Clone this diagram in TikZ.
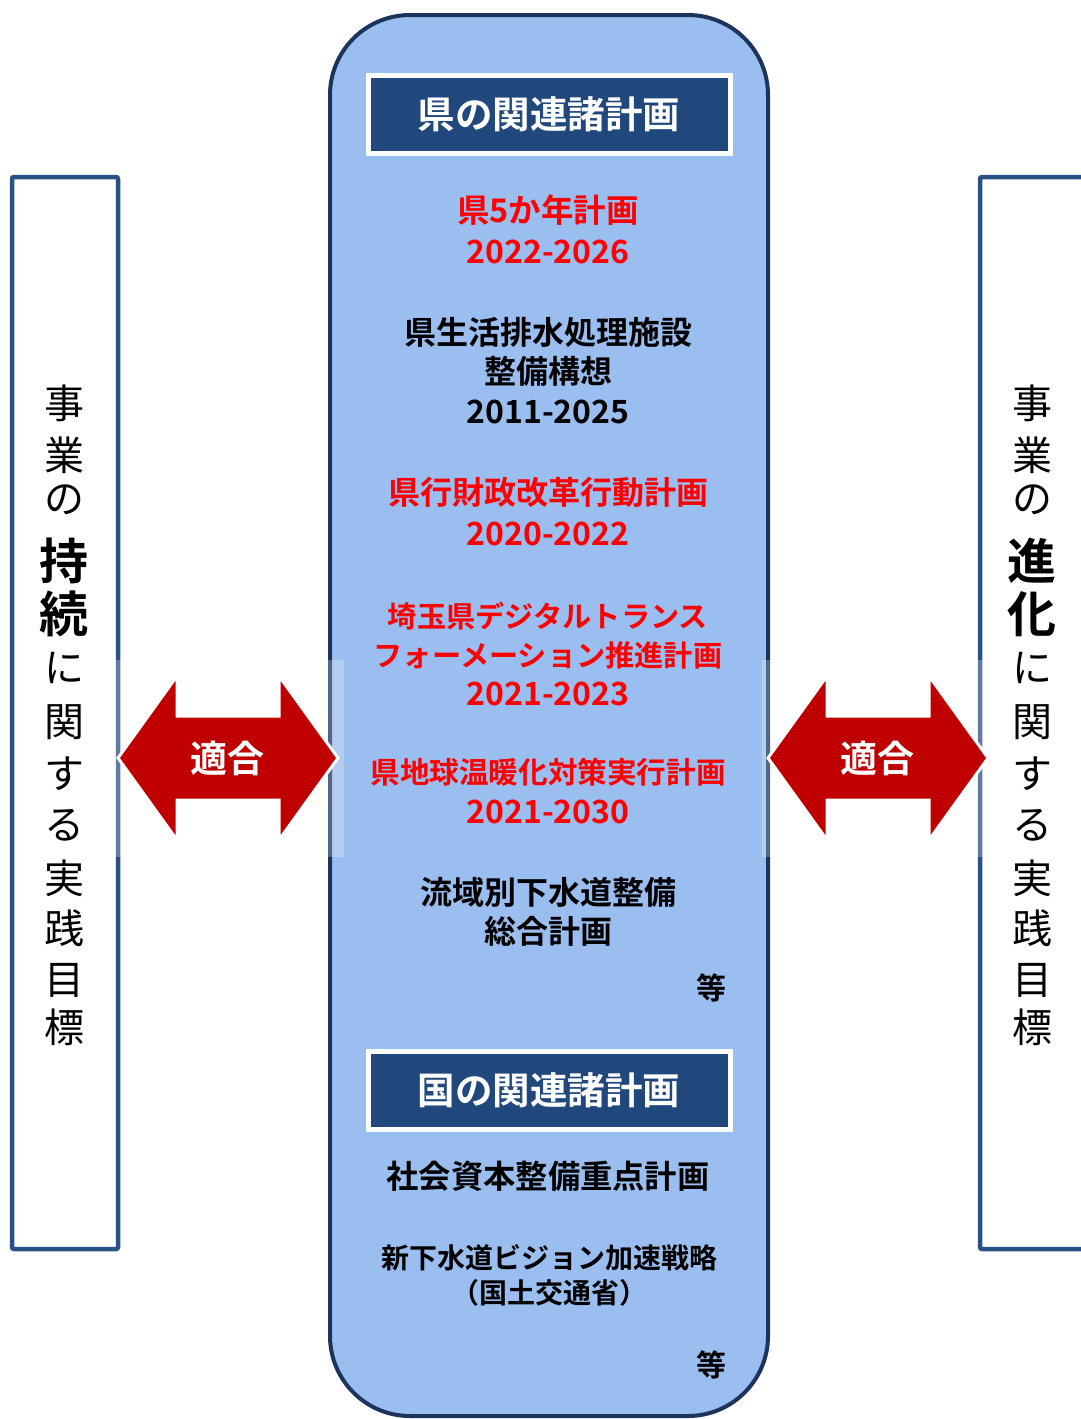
\documentclass[tikz,border=0pt]{standalone}
\usepackage{fontspec}
\setmainfont{Noto Sans CJK JP}[BoldFont={Noto Sans CJK JP Bold}]
\definecolor{panelfill}{RGB}{155,190,240}
\definecolor{panelline}{RGB}{28,52,92}
\definecolor{headfill}{RGB}{33,72,124}
\definecolor{sidebord}{RGB}{42,80,132}
\definecolor{arrowred}{RGB}{192,0,0}
\definecolor{planred}{RGB}{255,0,0}
\tikzset{
  plan/.style={inner sep=0pt, text=black, font=\bfseries\fontsize{#1}{#1}\selectfont},
  redplan/.style={plan=#1, text=planred},
  headbox/.style={draw=white, line width=5pt, fill=headfill, minimum width=362pt, minimum height=78pt, text=white, font=\bfseries\fontsize{37.5}{37.5}\selectfont, inner sep=0pt},
  sidebox/.style={draw=sidebord, line width=4.5pt, rounded corners=2pt},
  vchar/.style={inner sep=0pt, font=\fontsize{40}{40}\selectfont},
  vbold/.style={inner sep=0pt, font=\bfseries\fontsize{49}{49}\selectfont},
  fitarrow/.style={fill=arrowred, draw=white, line width=3pt, line join=miter},
  fitlabel/.style={text=white, inner sep=0pt, font=\bfseries\fontsize{37}{37}\selectfont}
}
\begin{document}
\begin{tikzpicture}[x=1pt,y=-1pt]
\useasboundingbox (0,0) rectangle (1080,1419);
\fill[white] (0,0) rectangle (1080,1419);

% side boxes
\draw[sidebox] (12,177) rectangle (118,1249);
\draw[sidebox] (980,177) rectangle (1110,1249);

% central panel
\draw[fill=panelfill, draw=panelline, line width=4pt, rounded corners=80pt] (330,15) rectangle (768,1416);

% headers
\node[headbox] (h1) at (549,114) {県の関連諸計画};
\node[headbox] (h2) at (549,1090) {国の関連諸計画};

% prefecture plans
\node[redplan=32.5] (p1a) at (548,210) {県5か年計画};
\node[redplan=32] (p1b) at (548,252) {2022-2026};
\node[plan=32] (p2a) at (548,332) {県生活排水処理施設};
\node[plan=32] (p2b) at (548,371) {整備構想};
\node[plan=32] (p2c) at (548,412) {2011-2025};
\node[redplan=32] (p3a) at (548,492) {県行財政改革行動計画};
\node[redplan=32] (p3b) at (548,534) {2020-2022};
\node[redplan=29.2] (p4a) at (548,616) {埼玉県デジタルトランス};
\node[redplan=29.2] (p4b) at (548,655) {フォーメーション推進計画};
\node[redplan=32] (p4c) at (548,694) {2021-2023};
\node[redplan=29.6] (p5a) at (548,772) {県地球温暖化対策実行計画};
\node[redplan=32] (p5b) at (548,812) {2021-2030};
\node[plan=32] (p6a) at (548,892) {流域別下水道整備};
\node[plan=32] (p6b) at (548,931) {総合計画};
\node[plan=30] (etc1) at (711,988) {等};

% national plans
\node[plan=32.3] (n1) at (548,1176) {社会資本整備重点計画};
\node[plan=28] (n2a) at (549,1258) {新下水道ビジョン加速戦略};
\node[plan=28] (n2b) at (549,1293) {（国土交通省）};
\node[plan=30] (etc2) at (711,1365) {等};

% vertical texts
\foreach \c/\y [count=\i] in {事/403,業/455,の/500} {
  \node[vchar] (l\i) at (64,\y) {\c};
  \node[vchar] (r\i) at (1032,\y) {\c};
}
\node[vbold] (l4) at (64,561) {持};
\node[vbold] (l5) at (64,614) {続};
\node[vbold] (r4) at (1032,561) {進};
\node[vbold] (r5) at (1032,614) {化};
\foreach \c/\y [count=\i from 6] in {に/668,関/722,す/774,る/825,実/878,践/928,目/980,標/1027} {
  \node[vchar] (l\i) at (64,\y) {\c};
  \node[vchar] (r\i) at (1032,\y) {\c};
}

% fit arrows
\fill[white, opacity=0.25] (112,660) rectangle (344,857);
\fill[white, opacity=0.25] (762,660) rectangle (994,857);
\draw[fitarrow] (118,758) -- (177,676) -- (177,716) -- (279,716) -- (279,676) -- (338,758)
  -- (279,840) -- (279,800) -- (177,800) -- (177,840) -- cycle;
\draw[fitarrow] (768,758) -- (827,676) -- (827,716) -- (929,716) -- (929,676) -- (988,758)
  -- (929,840) -- (929,800) -- (827,800) -- (827,840) -- cycle;
\node[fitlabel] (fa) at (227,758) {適合};
\node[fitlabel] (fb) at (877,758) {適合};
\end{tikzpicture}
\end{document}
